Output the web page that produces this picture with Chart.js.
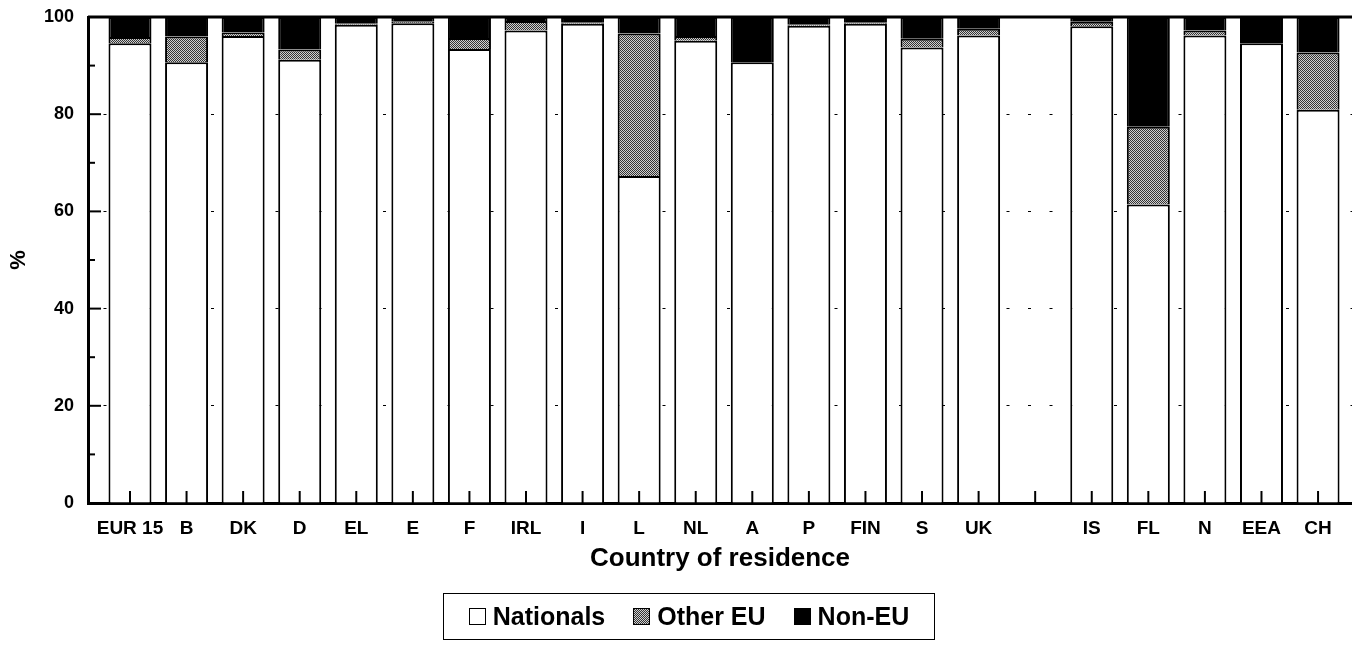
<!DOCTYPE html>
<html>
<head>
<meta charset="utf-8">
<script src="https://cdn.jsdelivr.net/npm/chart.js@4.4.1/dist/chart.umd.min.js"></script>
<style>
  body { margin: 0; background: #fff; }
  #wrap { position: relative; width: 1352px; height: 648px; }
  #legend {
    position: absolute; left: 443px; top: 593px; width: 492px; height: 47px;
    border: 1.5px solid #000; box-sizing: border-box;
    display: flex; align-items: center; justify-content: center;
    gap: 28px; font: bold 25px "Liberation Sans", Arial, sans-serif; color: #000;
  }
  .item { display: flex; align-items: center; gap: 7px; }
  .sw { width: 17px; height: 17px; border: 1.5px solid #000; box-sizing: border-box; }
</style>
</head>
<body>
<div id="wrap">
  <canvas id="chart" width="1352" height="648"></canvas>
  <div id="legend"></div>
</div>
<script>
// categories (empty slot between UK and IS)
const countries = ["EUR 15", "B", "DK", "D", "EL", "E", "F", "IRL", "I", "L", "NL",
                   "A", "P", "FIN", "S", "UK", "", "IS", "FL", "N", "EEA", "CH"];

// share of population, %
const nationals = [94.6, 90.7, 96.1, 91.2, 98.4, 98.7, 93.4, 97.2, 98.6, 67.3, 95.1,
                   90.7, 98.2, 98.6, 93.7, 96.2, null, 98.1, 61.4, 96.2, 94.6, 80.9];
const otherEU   = [1.3, 5.3, 0.7, 2.1, 0.2, 0.3, 2.3, 2.0, 0.2, 29.3, 1.0,
                   0, 0.3, 0.2, 1.8, 1.4, null, 0.9, 16.0, 1.0, 0, 11.8];
const nonEU     = [4.1, 4.0, 3.2, 6.7, 1.4, 1.0, 4.3, 0.8, 1.2, 3.4, 3.9,
                   9.3, 1.5, 1.2, 4.5, 2.4, null, 1.0, 22.6, 2.8, 5.4, 7.3];

const yTicks = [0, 20, 40, 60, 80, 100];

const FONT = '"Liberation Sans", Arial, Helvetica, sans-serif';

// dotted grey fill like the print screen
function dotCanvas() {
  const c = document.createElement("canvas");
  c.width = 2; c.height = 2;
  const g = c.getContext("2d");
  g.fillStyle = "#cfcfcf"; g.fillRect(0, 0, 2, 2);
  g.fillStyle = "#333"; g.fillRect(0, 0, 1, 1); g.fillRect(1, 1, 1, 1);
  return c;
}
const dots = dotCanvas();
const ctx = document.getElementById("chart").getContext("2d");
const dotPattern = ctx.createPattern(dots, "repeat");

const pts = arr => arr.map((v, i) => ({ x: i, y: v }));

// frame top, inward tick marks
const frame = {
  id: "frame",
  afterDatasetsDraw(chart) {
    const { ctx, chartArea: a, scales: { x, y } } = chart;
    ctx.save();
    ctx.strokeStyle = "#000";
    ctx.lineWidth = 3;
    ctx.beginPath(); ctx.moveTo(a.left, a.top); ctx.lineTo(a.right, a.top); ctx.stroke();
    ctx.lineWidth = 2;
    for (let v = 0; v <= 100; v += 10) {
      const py = y.getPixelForValue(v);
      const len = yTicks.includes(v) ? 13 : 7;
      ctx.beginPath(); ctx.moveTo(a.left, py); ctx.lineTo(a.left + len, py); ctx.stroke();
    }
    countries.forEach((c, i) => {
      const px = x.getPixelForValue(i);
      ctx.beginPath(); ctx.moveTo(px, a.bottom); ctx.lineTo(px, a.bottom - 12); ctx.stroke();
    });
    ctx.restore();
  }
};

const chart = new Chart(ctx, {
  type: "bar",
  data: {
    datasets: [
      { label: "Nationals", data: pts(nationals), backgroundColor: "#fff", borderColor: "#000", borderWidth: 2 },
      { label: "Other EU", data: pts(otherEU), backgroundColor: dotPattern, borderColor: "#000", borderWidth: 2 },
      { label: "Non-EU", data: pts(nonEU), backgroundColor: "#000", borderColor: "#000", borderWidth: 2 }
    ]
  },
  options: {
    responsive: false,
    animation: false,
    categoryPercentage: 1,
    barPercentage: 0.76,
    layout: { padding: { left: 0, right: 0, top: 17, bottom: 70 } },
    plugins: { legend: { display: false }, tooltip: { enabled: false } },
    scales: {
      x: {
        type: "linear",
        stacked: true,
        offset: false,
        min: -0.742,
        max: 21.6,
        afterBuildTicks: s => { s.ticks = countries.map((c, i) => ({ value: i })); },
        afterFit: s => { s.height = 75; s.paddingLeft = 0; s.paddingRight = 0; },
        grid: { display: false, offset: false },
        border: { display: true, color: "#000", width: 3 },
        ticks: {
          autoSkip: false,
          maxRotation: 0,
          padding: 6,
          color: "#000",
          font: { family: FONT, size: 19, weight: "bold" },
          callback: v => countries[v] ?? ""
        },
        title: {
          display: true,
          text: "Country of residence",
          color: "#000",
          padding: { top: 4, bottom: 4 },
          font: { family: FONT, size: 26, weight: "bold" }
        }
      },
      y: {
        stacked: true,
        min: 0,
        max: 100,
        afterBuildTicks: s => { s.ticks = yTicks.map(v => ({ value: v })); },
        afterFit: s => { s.width = 88; s.paddingTop = 0; s.paddingBottom = 0; },
        grid: {
          drawTicks: false,
          lineWidth: 1,
          color: c => (c.tick && (c.tick.value === 0 || c.tick.value === 100)) ? "rgba(0,0,0,0)" : "#000"
        },
        border: { display: true, color: "#000", width: 3, dash: [3, 18.5], dashOffset: 8 },
        ticks: {
          padding: 14,
          color: "#000",
          font: { family: FONT, size: 18, weight: "bold" }
        },
        title: {
          display: true,
          text: "%",
          color: "#000",
          padding: { top: 6, bottom: 0 },
          font: { family: FONT, size: 22, weight: "bold" }
        }
      }
    }
  },
  plugins: [frame]
});

// legend box built from the datasets
const legend = document.getElementById("legend");
chart.data.datasets.forEach(ds => {
  const item = document.createElement("div");
  item.className = "item";
  const sw = document.createElement("span");
  sw.className = "sw";
  if (ds.label === "Other EU") {
    sw.style.background = "url(" + dots.toDataURL() + ") repeat";
  } else {
    sw.style.background = ds.backgroundColor;
  }
  const t = document.createElement("span");
  t.textContent = ds.label;
  item.appendChild(sw);
  item.appendChild(t);
  legend.appendChild(item);
});
</script>
</body>
</html>
